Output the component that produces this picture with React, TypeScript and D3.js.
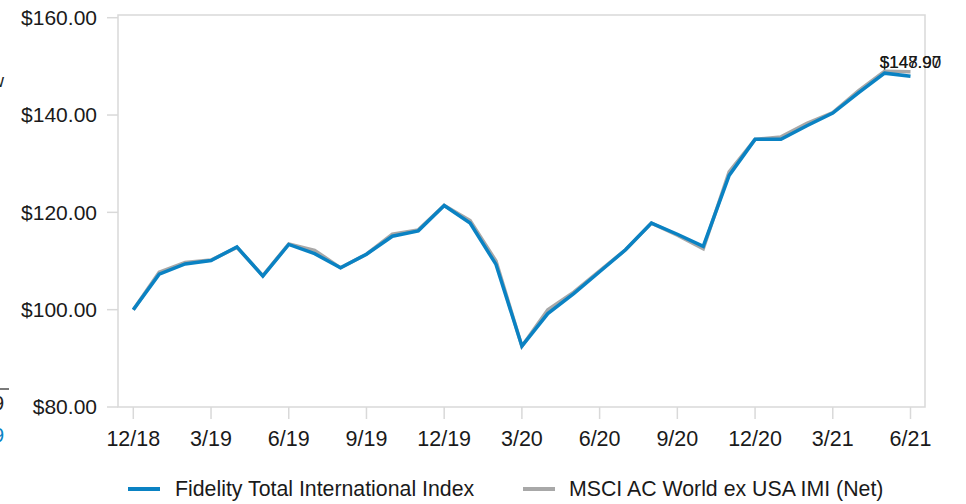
import React from "react";
import * as d3 from "d3";

// Month-end labels, Dec 2018 through Jun 2021
const months = [
  "12/18", "1/19", "2/19", "3/19", "4/19", "5/19", "6/19", "7/19", "8/19", "9/19", "10/19", "11/19",
  "12/19", "1/20", "2/20", "3/20", "4/20", "5/20", "6/20", "7/20", "8/20", "9/20", "10/20", "11/20",
  "12/20", "1/21", "2/21", "3/21", "4/21", "5/21", "6/21",
];

// Growth of a hypothetical $100 investment
const fundValues = [
  100.0, 107.3, 109.4, 110.1, 112.9, 106.9, 113.4, 111.5, 108.6, 111.4, 115.1, 116.2,
  121.4, 117.8, 109.3, 92.5, 99.2, 103.3, 107.8, 112.3, 117.8, 115.5, 113.0, 127.6,
  135.0, 135.0, 137.8, 140.4, 144.6, 148.6, 147.97,
];
const indexValues = [
  100.0, 107.7, 109.7, 110.2, 112.8, 107.0, 113.5, 112.2, 108.6, 111.4, 115.5, 116.4,
  121.4, 118.3, 110.0, 92.5, 100.0, 103.6, 108.0, 112.3, 117.8, 115.3, 112.5, 128.3,
  135.0, 135.5, 138.3, 140.5, 145.0, 149.0, 148.9,
];

const seriesNames = ["Fidelity Total International Index", "MSCI AC World ex USA IMI (Net)"];
const yTicks = [80, 100, 120, 140, 160];
const xTickLabels = ["12/18", "3/19", "6/19", "9/19", "12/19", "3/20", "6/20", "9/20", "12/20", "3/21", "6/21"];

const BLUE = "#0a82c3";
const GRAY = "#a8a8a8";
const FRAME = "#d9d9d9";
const FONT = "'Liberation Sans', Arial, Helvetica, sans-serif";

export default function App() {
  const width = 966;
  const height = 504;
  const frame = { left: 118, right: 925, top: 15, bottom: 407 };

  const x = d3.scaleLinear().domain([0, months.length - 1]).range([133.3, 910.5]);
  const y = d3.scaleLinear().domain([80, 160]).range([407, 17.7]);

  const line = d3
    .line<number>()
    .x((_, i) => x(i))
    .y((v) => y(v));

  const lastIdx = months.length - 1;
  const fundEnd = fundValues[lastIdx];
  const indexEnd = indexValues[lastIdx];
  const labelBaseline = y(Math.max(fundEnd, indexEnd)) - 4;
  const fmt = d3.format("$,.2f");

  return (
    <svg
      width={width}
      height={height}
      style={{ position: "absolute", left: 0, top: 0, fontFamily: FONT }}
    >
      <rect x={0} y={0} width={width} height={height} fill="#fff" />

      {/* clipped fragments at the left edge */}
      <text x={4} y={87} fontSize={18} textAnchor="end" fill="#222">w</text>
      <line x1={0} x2={9} y1={389} y2={389} stroke="#222" strokeWidth={1.2} />
      <text x={4} y={410} fontSize={20} textAnchor="end" fill="#222">9</text>
      <text x={4} y={442} fontSize={20} textAnchor="end" fill={BLUE}>9</text>

      {/* plot frame */}
      <rect
        x={frame.left}
        y={frame.top}
        width={frame.right - frame.left}
        height={frame.bottom - frame.top}
        fill="none"
        stroke={FRAME}
        strokeWidth={1.5}
      />

      {/* y axis */}
      {yTicks.map((t) => (
        <g key={t}>
          <line x1={107} x2={frame.left} y1={y(t)} y2={y(t)} stroke={FRAME} strokeWidth={1.5} />
          <text x={97} y={y(t)} dy="0.35em" textAnchor="end" fontSize={21} fill="#1a1a1a">
            {fmt(t)}
          </text>
        </g>
      ))}

      {/* x axis */}
      {xTickLabels.map((lab) => {
        const i = months.indexOf(lab);
        return (
          <g key={lab}>
            <line x1={x(i)} x2={x(i)} y1={frame.bottom} y2={419} stroke={FRAME} strokeWidth={1.5} />
            <text x={x(i)} y={446} textAnchor="middle" fontSize={21.5} fill="#1a1a1a">
              {lab}
            </text>
          </g>
        );
      })}

      {/* series lines */}
      <path d={line(indexValues) || ""} fill="none" stroke={GRAY} strokeWidth={3.5} strokeLinejoin="miter" />
      <path d={line(fundValues) || ""} fill="none" stroke={BLUE} strokeWidth={3.5} strokeLinejoin="miter" />

      {/* ending values */}
      <text x={x(lastIdx)} y={labelBaseline} textAnchor="middle" fontSize={17} fill="#1a1a1a">
        {fmt(indexEnd)}
      </text>
      <text x={x(lastIdx)} y={labelBaseline} textAnchor="middle" fontSize={17} fill="#1a1a1a">
        {fmt(fundEnd)}
      </text>

      {/* legend */}
      <line x1={128} x2={160} y1={489} y2={489} stroke={BLUE} strokeWidth={4} />
      <text x={175} y={496} fontSize={21.3} fill="#1a1a1a">{seriesNames[0]}</text>
      <line x1={523} x2={555} y1={489} y2={489} stroke={GRAY} strokeWidth={4} />
      <text x={569} y={496} fontSize={21.3} fill="#1a1a1a">{seriesNames[1]}</text>
    </svg>
  );
}
